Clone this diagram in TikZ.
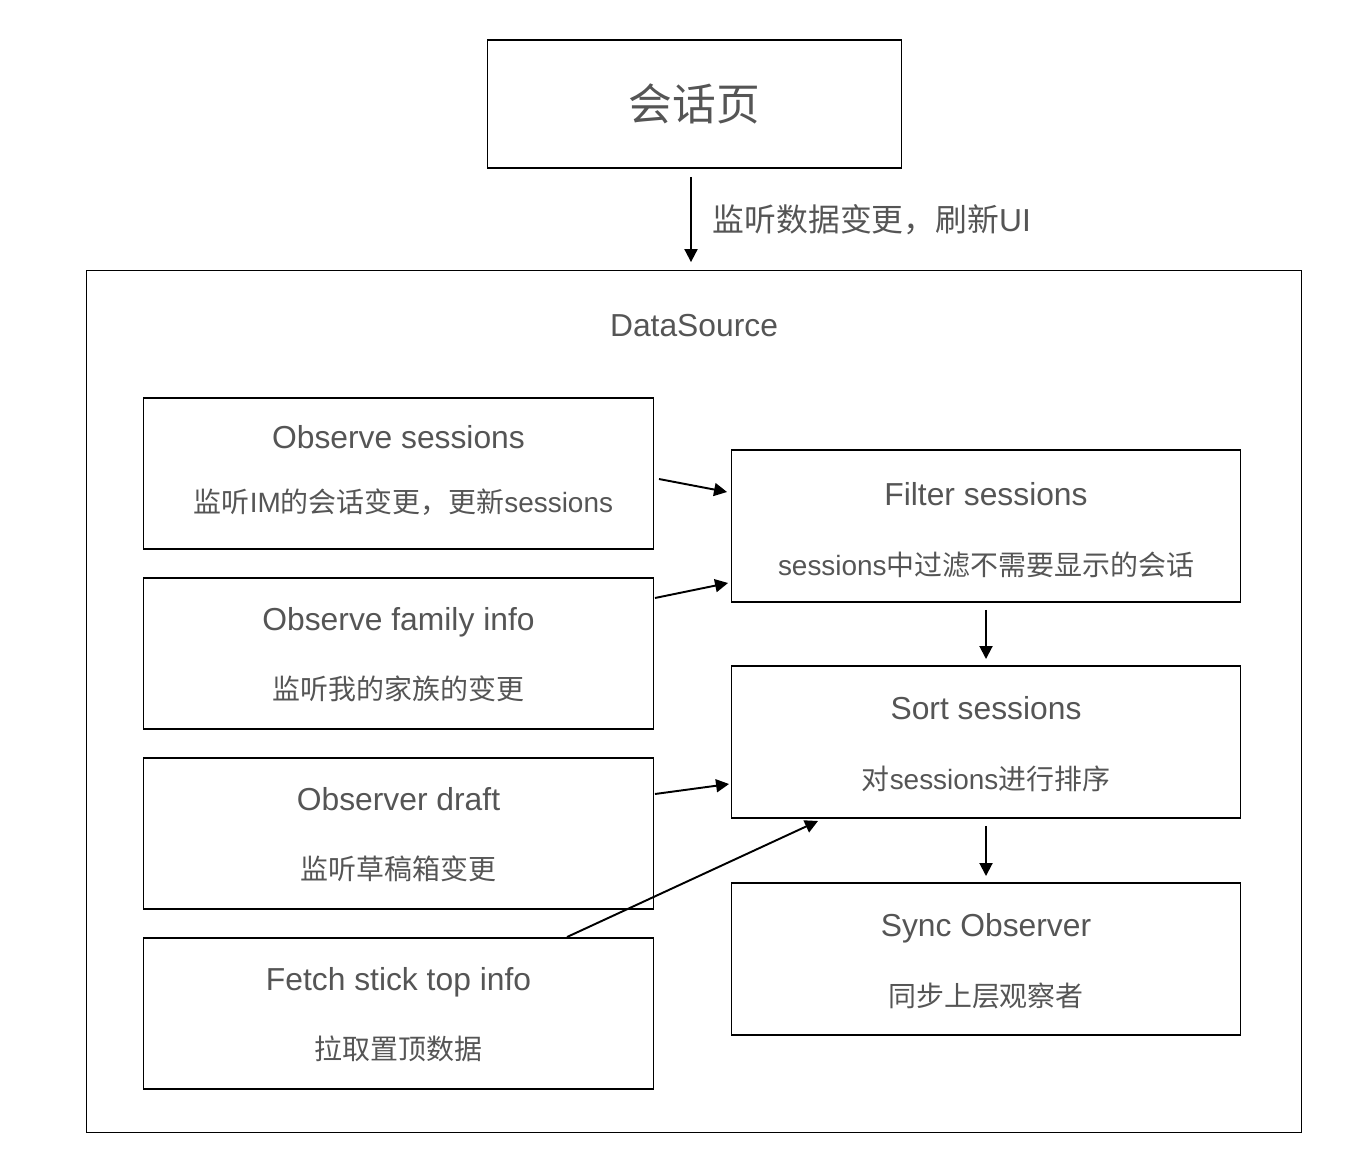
\documentclass[tikz,border=0pt]{standalone}
\usepackage{fontspec}
\setmainfont{Liberation Sans}
\newfontfamily\cjk{Noto Sans CJK SC}
\usepackage{xcolor}
\usepackage{tikz}
\usetikzlibrary{positioning,arrows.meta,calc}
\definecolor{textgray}{HTML}{555555}

\begin{document}
\begin{tikzpicture}[x=0.02cm, y=-0.02cm,
    box/.style={draw, line width=0.6pt, inner sep=0, outer sep=0},
    srcbox/.style={box, minimum width=10.22cm, minimum height=3.02cm},
    stagebox/.style={box, minimum width=10.2cm, minimum height=3.04cm},
    ttl/.style={text=textgray, font=\fontsize{18.1}{22}\selectfont, inner sep=0, text depth=0pt},
    subtxt/.style={text=textgray, font=\fontsize{15.9}{19}\selectfont, inner sep=0},
    flow/.style={-{Triangle[length=0.26cm, width=0.26cm]}, line width=1.1pt}]
\useasboundingbox (0,0) rectangle (1372,1152);

\node[box, minimum width=8.3cm, minimum height=2.56cm, text=textgray, font=\fontsize{24.9}{30}\selectfont\cjk] (page) at (694.5,104) {会话页};
\node[box, minimum width=24.32cm, minimum height=17.26cm] (source) at (694,701.5) {};
\node[ttl] (source_title) at ($(source.north)+(0,55)$) {DataSource};

\node[srcbox] (observe_sessions) at (398.5,473.5) {};
\node[srcbox] (observe_family) at (398.5,653.5) {};
\node[srcbox] (observe_draft) at (398.5,833.5) {};
\node[srcbox] (fetch_top) at (398.5,1013.5) {};

\node[stagebox] (filter) at (986,526) {};
\node[stagebox] (sort) at (986,742) {};
\node[stagebox] (sync) at (986,959) {};

\node[ttl] (observe_sessions_t) at ($(observe_sessions.north)+(0,39)$) {Observe sessions};
\node[subtxt] (observe_sessions_s) at ($(observe_sessions.north)+(5,104)$) {{\cjk 监听}IM{\cjk 的会话变更，更新}sessions};
\node[ttl] (observe_family_t) at ($(observe_family.north)+(0,41)$) {Observe family info};
\node[subtxt] (observe_family_s) at ($(observe_family.north)+(0,111)$) {\cjk 监听我的家族的变更};
\node[ttl] (observe_draft_t) at ($(observe_draft.north)+(0,41)$) {Observer draft};
\node[subtxt] (observe_draft_s) at ($(observe_draft.north)+(0,111)$) {\cjk 监听草稿箱变更};
\node[ttl] (fetch_top_t) at ($(fetch_top.north)+(0,41)$) {Fetch stick top info};
\node[subtxt] (fetch_top_s) at ($(fetch_top.north)+(0,111)$) {\cjk 拉取置顶数据};

\node[ttl] (filter_t) at ($(filter.north)+(0,44)$) {Filter sessions};
\node[subtxt] (filter_s) at ($(filter.north)+(0,115)$) {sessions{\cjk 中过滤不需要显示的会话}};
\node[ttl] (sort_t) at ($(sort.north)+(0,42)$) {Sort sessions};
\node[subtxt] (sort_s) at ($(sort.north)+(0,113)$) {{\cjk 对}sessions{\cjk 进行排序}};
\node[ttl] (sync_t) at ($(sync.north)+(0,42)$) {Sync Observer};
\node[subtxt] (sync_s) at ($(sync.north)+(0,113)$) {\cjk 同步上层观察者};

\draw[flow] ($(page.south)+(-3.5,9)$) -- ($(source.north)+(-3,-8)$)
    node[midway, anchor=west, xshift=0.42cm, inner sep=0, text=textgray, font=\fontsize{18.1}{22}\selectfont] (refresh_label) {{\cjk 监听数据变更，刷新}UI};

\draw[flow] ($(observe_sessions.east)+(5,5.5)$) -- ($(filter.west)+(-4,-34)$);
\draw[flow] ($(observe_family.east)+(1,-55.5)$) -- ($(filter.west)+(-3,57)$);
\draw[flow] ($(observe_draft.east)+(1,-39.5)$) -- ($(sort.west)+(-2,42)$);
\draw[flow] ($(fetch_top.north)+(168.5,-1)$) -- ($(sort.south)+(-168,3)$);
\draw[flow] ($(filter.south)+(0,8)$) -- ($(sort.north)+(0,-7)$);
\draw[flow] ($(sort.south)+(0,8)$) -- ($(sync.north)+(0,-7)$);

\end{tikzpicture}
\end{document}
